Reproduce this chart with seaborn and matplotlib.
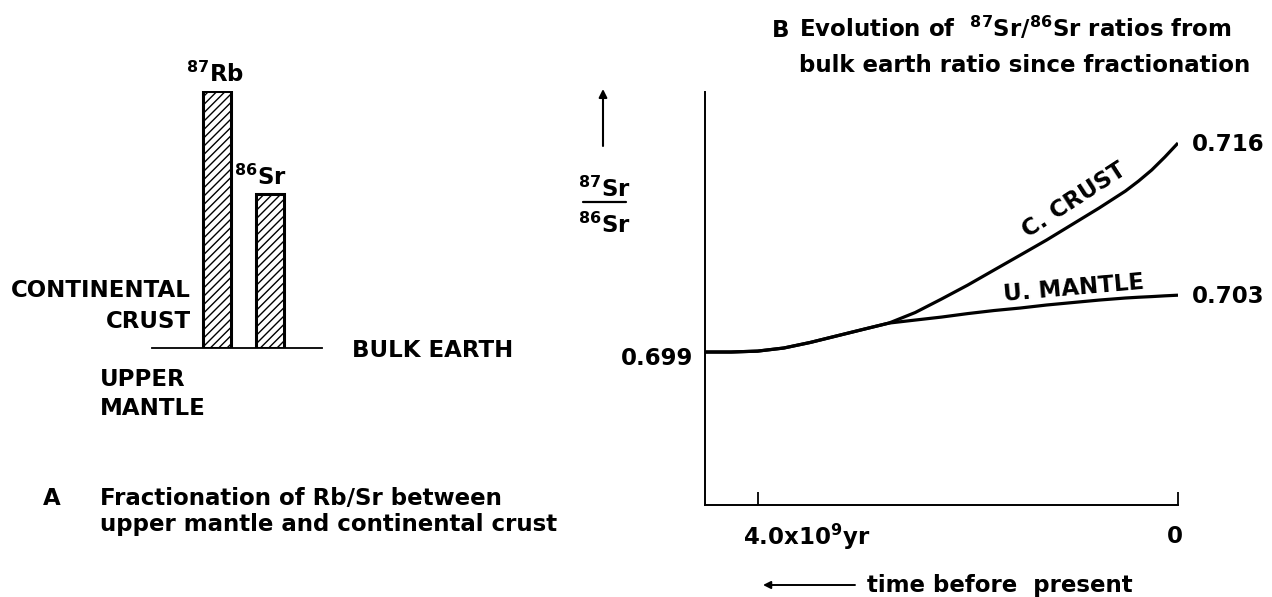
import numpy as np
import pandas as pd
import matplotlib
matplotlib.use("Agg")
import matplotlib.pyplot as plt
import seaborn as sns

# ---- Panel A: relative enrichment of the isotopes in the continental crust ----
isotopes = ["87Rb", "86Sr"]
isotope_labels = [r"$^{87}$Rb", r"$^{86}$Sr"]
enrichment = [1.0, 0.60]

# ---- Panel B: 87Sr/86Sr evolution since fractionation (time in Gyr before present) ----
time_gyr = [4.5, 4.25, 4.0, 3.75, 3.5, 3.25, 3.0, 2.75, 2.5, 2.25, 2.0,
            1.75, 1.5, 1.25, 1.0, 0.75, 0.5, 0.375, 0.25, 0.125, 0.0]
crust_ratio = [0.69900, 0.69900, 0.69904, 0.69921, 0.69955, 0.69998, 0.70043,
               0.70089, 0.70167, 0.70270, 0.70380, 0.70501, 0.70624, 0.70750,
               0.70886, 0.71024, 0.71172, 0.71260, 0.71358, 0.71474, 0.71600]
mantle_ratio = [0.69900, 0.69900, 0.69904, 0.69921, 0.69955, 0.69998, 0.70043,
                0.70089, 0.70111, 0.70133, 0.70159, 0.70182, 0.70201, 0.70224,
                0.70243, 0.70262, 0.70278, 0.70284, 0.70289, 0.70295, 0.70300]
series_names = ["C. CRUST", "U. MANTLE"]
bulk_earth = 0.699
xtick_values = [4.0, 0.0]
xtick_labels = [r"4.0x10$^{9}$yr", "0"]

sns.set_style("white")
plt.rcParams["font.family"] = ["DejaVu Sans"]
plt.rcParams["font.weight"] = "bold"
plt.rcParams["mathtext.fontset"] = "dejavusans"
plt.rcParams["mathtext.default"] = "bf"
plt.rcParams["text.color"] = "black"
plt.rcParams["axes.edgecolor"] = "black"
plt.rcParams["hatch.linewidth"] = 1.0
plt.rcParams["hatch.color"] = "black"

W, H = 1272, 597
FS = 16.5
fig = plt.figure(figsize=(W / 100, H / 100), dpi=100)
fig.patch.set_facecolor("white")


def box(l, t, r, b):
    return [l / W, 1 - b / H, (r - l) / W, (b - t) / H]


def put(x, y, s, **kw):
    kw.setdefault("fontsize", FS)
    kw.setdefault("fontweight", "bold")
    kw.setdefault("va", "baseline")
    kw.setdefault("color", "black")
    return fig.text(x / W, 1 - y / H, s, **kw)


# ================= Panel A =================
axA = fig.add_axes(box(152, 91, 322, 348))
bar_df = pd.DataFrame({"isotope": isotopes, "enrichment": enrichment})
sns.barplot(data=bar_df, x="isotope", y="enrichment", order=isotopes,
            color="white", edgecolor="black", linewidth=2.2, width=0.53,
            ax=axA)
for patch in axA.patches:
    patch.set_hatch("////")
    patch.set_facecolor("white")
    patch.set_edgecolor("black")
axA.set_xlim(-1.217, 1.981)
axA.set_ylim(0, 1)
axA.set_xticks([])
axA.set_yticks([])
axA.set_xlabel("")
axA.set_ylabel("")
for side in ["top", "right", "left"]:
    axA.spines[side].set_visible(False)
axA.spines["bottom"].set_linewidth(1.3)

label_dx = [-2, -9]
for i, (lab, val) in enumerate(zip(isotope_labels, enrichment)):
    axA.annotate(lab, xy=(i, val), xytext=(label_dx[i], 9),
                 textcoords="offset pixels", ha="center", va="baseline",
                 fontsize=FS, fontweight="bold", color="black",
                 annotation_clip=False)

put(191, 297, "CONTINENTAL", ha="right")
put(191, 328, "CRUST", ha="right")
put(352, 357, "BULK EARTH", ha="left")
put(100, 386, "UPPER", ha="left")
put(100, 415, "MANTLE", ha="left")

put(43, 505, "A", ha="left")
put(100, 505, "Fractionation of Rb/Sr between", ha="left")
put(100, 531, "upper mantle and continental crust", ha="left")

# ================= Panel B =================
axB = fig.add_axes(box(705, 92, 1178, 505))
evo_df = pd.DataFrame({
    "time": time_gyr * 2,
    "ratio": crust_ratio + mantle_ratio,
    "series": [series_names[0]] * len(time_gyr) + [series_names[1]] * len(time_gyr),
})
sns.lineplot(data=evo_df, x="time", y="ratio", hue="series",
             palette={series_names[0]: "black", series_names[1]: "black"},
             linewidth=2.3, legend=False, ax=axB)
for line in axB.get_lines():
    line.set_solid_joinstyle("round")
    line.set_solid_capstyle("butt")


def fwd(v):
    d = np.asarray(v) - bulk_earth
    return np.sign(d) * np.abs(d) ** 0.9


def inv(u):
    u = np.asarray(u)
    return bulk_earth + np.sign(u) * np.abs(u) ** (1 / 0.9)


axB.set_yscale("function", functions=(fwd, inv))
axB.set_xlim(4.5, 0.0)
axB.set_ylim(0.68698, 0.72067)
axB.set_yticks([])
axB.set_xticks(xtick_values)
axB.set_xticklabels([])
axB.tick_params(axis="x", direction="in", length=9.5, width=1.3,
                color="black", bottom=True)
axB.set_xlabel("")
axB.set_ylabel("")
for side in ["top", "right"]:
    axB.spines[side].set_visible(False)
for side in ["left", "bottom"]:
    axB.spines[side].set_linewidth(1.4)

# tick labels under the time axis
axB.annotate(xtick_labels[0], xy=(xtick_values[0], 0), xycoords=("data", "axes fraction"),
             xytext=(-15, -40), textcoords="offset pixels", ha="left", va="baseline",
             fontsize=FS, fontweight="bold", color="black")
axB.annotate(xtick_labels[1], xy=(xtick_values[1], 0), xycoords=("data", "axes fraction"),
             xytext=(-3, -38), textcoords="offset pixels", ha="center", va="baseline",
             fontsize=FS, fontweight="bold", color="black")

# ratio values at the ends of the curves
end_kw = dict(textcoords="offset pixels", va="center", fontsize=FS,
              fontweight="bold", color="black", annotation_clip=False)
axB.annotate(f"{bulk_earth:.3f}", xy=(time_gyr[0], crust_ratio[0]), xytext=(-12, -6),
             ha="right", **end_kw)
axB.annotate(f"{crust_ratio[-1]:.3f}", xy=(time_gyr[-1], crust_ratio[-1]), xytext=(14, -1),
             ha="left", **end_kw)
axB.annotate(f"{mantle_ratio[-1]:.3f}", xy=(time_gyr[-1], mantle_ratio[-1]), xytext=(14, -1),
             ha="left", **end_kw)

# curve names
put(1074, 200, series_names[0], ha="center", va="center", rotation=33,
    rotation_mode="anchor")
put(1074, 288, series_names[1], ha="center", va="center", rotation=5,
    rotation_mode="anchor")

# panel title
put(772, 37, "B", ha="left")
put(799, 37, r"Evolution of  $^{87}$Sr/$^{86}$Sr ratios from", ha="left")
put(799, 72, "bulk earth ratio since fractionation", ha="left")

# y-axis quantity written as a fraction, with an upward arrow
put(604, 197, r"$^{87}$Sr", ha="center")
put(604, 233, r"$^{86}$Sr", ha="center")
fig.add_artist(plt.Line2D([583 / W, 626 / W], [1 - 202 / H, 1 - 202 / H],
                          color="black", linewidth=1.6))
axB.annotate("", xy=(603, H - 89), xycoords="figure pixels",
             xytext=(603, H - 146), textcoords="figure pixels",
             arrowprops=dict(arrowstyle="-|>", color="black", lw=1.5,
                             mutation_scale=12, shrinkA=0, shrinkB=0),
             annotation_clip=False)

# time direction
axB.annotate("", xy=(763, H - 585), xycoords="figure pixels",
             xytext=(855, H - 585), textcoords="figure pixels",
             arrowprops=dict(arrowstyle="-|>", color="black", lw=1.4,
                             mutation_scale=11, shrinkA=0, shrinkB=0),
             annotation_clip=False)
put(867, 592, "time before  present", ha="left")

fig.savefig("out.png", dpi=100, facecolor="white")
